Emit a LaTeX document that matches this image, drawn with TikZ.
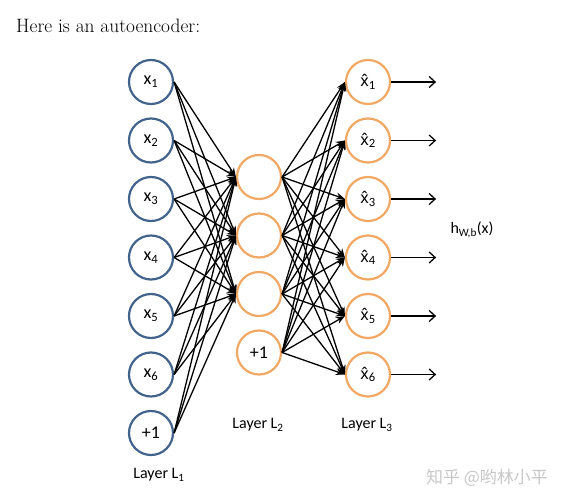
\documentclass[tikz,border=0pt]{standalone}
\usepackage{fontspec}
\setsansfont{Carlito}
\newfontfamily\cjk{Noto Sans CJK SC}
\newfontfamily\hatfont{Noto Sans}
\usetikzlibrary{positioning, arrows.meta}
\definecolor{inblue}{RGB}{66,100,140}
\definecolor{unitorange}{RGB}{240,168,100}
\newcommand\xhat{{\hatfont\fontsize{16}{18}\selectfont x̂}}

\begin{document}
\begin{tikzpicture}[x=1pt, y=-1pt, node distance={58.5pt}, font=\sffamily\fontsize{16}{18}\selectfont,
    unit/.style = {draw, circle, line width=2.2pt, minimum size=44pt, inner sep=0pt, font=\sffamily\fontsize{18}{20}\selectfont},
    inunit/.style = {unit, draw=inblue},
    hidunit/.style = {unit, draw=unitorange},
    edge/.style = {line width=1.3pt}]
    \useasboundingbox (0,0) rectangle (561,502);

    \node[anchor=base west, inner sep=0pt, font=\rmfamily\fontsize{19.4}{22}\selectfont] (title) at (16,33) {Here is an autoencoder:};

    % layer 1
    \node[inunit] (x1) at (151,82) {x\textsubscript{1}};
    \node[inunit] (x2) [below of=x1] {x\textsubscript{2}};
    \node[inunit] (x3) [below of=x2] {x\textsubscript{3}};
    \node[inunit] (x4) [below of=x3] {x\textsubscript{4}};
    \node[inunit] (x5) [below of=x4] {x\textsubscript{5}};
    \node[inunit] (x6) [below of=x5] {x\textsubscript{6}};
    \node[inunit] (x7) [below of=x6] {+1};

    % layer 2
    \node[hidunit] (h1) at (259,177) {};
    \node[hidunit] (h2) [below of=h1] {};
    \node[hidunit] (h3) [below of=h2] {};
    \node[hidunit] (h4) [below of=h3] {+1};

    % layer 3
    \node[hidunit] (o1) at (368,82) {\xhat\textsubscript{1}};
    \node[hidunit] (o2) [below of=o1] {\xhat\textsubscript{2}};
    \node[hidunit] (o3) [below of=o2] {\xhat\textsubscript{3}};
    \node[hidunit] (o4) [below of=o3] {\xhat\textsubscript{4}};
    \node[hidunit] (o5) [below of=o4] {\xhat\textsubscript{5}};
    \node[hidunit] (o6) [below of=o5] {\xhat\textsubscript{6}};

    % labels
    \node (l1) at (159,475) {Layer L\textsubscript{1}};
    \node (l2) at (258,425) {Layer L\textsubscript{2}};
    \node (l3) at (367,425) {Layer L\textsubscript{3}};
    \node (hwb) at (472,230) {h\textsubscript{W,b}(x)};
    \node[text=black!22, font=\cjk\fontsize{17}{19}\selectfont] (mark) at (487,478) {知乎 @哟林小平};

    % weights
    \foreach \i in {1,...,7}
        \foreach \j in {1,2,3}
            \draw[edge, -{Stealth[length=9pt, width=7pt]}] (x\i.east) -- (h\j.west);
    \foreach \i in {1,...,4}
        \foreach \j in {1,...,6}
            \draw[edge, -{Stealth[length=9pt, width=7pt]}] (h\i.east) -- (o\j.west);
    \foreach \j in {1,...,6}
        \draw[edge, -{Straight Barb[length=6pt, width=11pt]}] (o\j.east) -- ++(45,0);
\end{tikzpicture}
\end{document}
